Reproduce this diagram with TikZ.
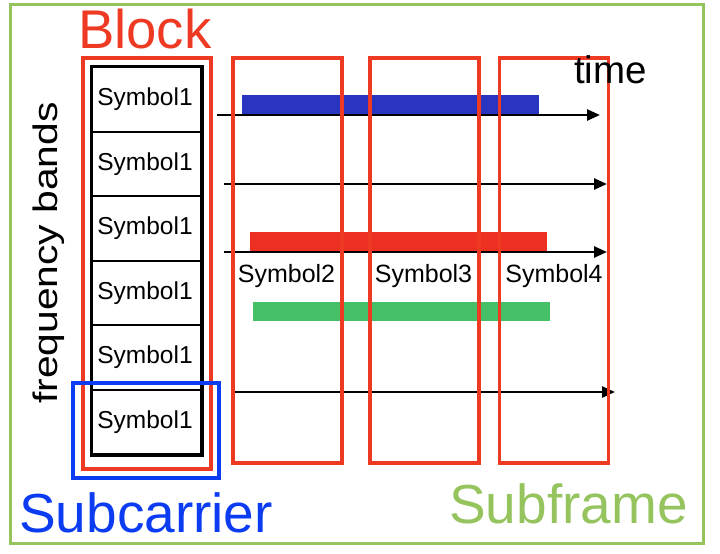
\documentclass[tikz,border=0pt]{standalone}
\usepackage{fontspec}
\setmainfont{Liberation Sans}
\usepackage{graphicx}
\usetikzlibrary{arrows.meta}
\definecolor{cFrame}{HTML}{95C45E}
\definecolor{cRed}{HTML}{EE3A23}
\definecolor{cBlue}{HTML}{0B3CF2}
\definecolor{cBarBlue}{HTML}{2935BF}
\definecolor{cBarRed}{HTML}{EE3023}
\definecolor{cBarGreen}{HTML}{45C067}

\begin{document}
\begin{tikzpicture}[
  x=1pt,y=-1pt,
  >={Triangle[length=13pt,width=11pt]},
  cell/.style={draw=black,line width=2pt,minimum width=109pt,minimum height=64.5pt,
               inner sep=0pt,font=\fontsize{24.5}{26}\selectfont},
  slot/.style={draw=cRed,line width=3.5pt,minimum width=109pt,minimum height=405pt,inner sep=0pt},
  band/.style={->,line width=2.6pt},
  bar/.style={inner sep=0pt,minimum height=19.5pt},
  colname/.style={anchor=base,inner sep=0pt,font=\fontsize{25}{27}\selectfont},
  bigtext/.style={anchor=base west,inner sep=0pt,font=\fontsize{55}{59}\selectfont}
]
\useasboundingbox (0,0) rectangle (720,554);

% outer subframe
\node[draw=cFrame,line width=3pt,minimum width=693pt,minimum height=539pt,inner sep=0pt]
  (frame) at (356.5,273.5) {};

% busy bands
\node[bar,fill=cBarBlue,minimum width=297pt] (busy1) at (390.5,104.5) {};
\node[bar,fill=cBarRed,minimum width=297pt] (busy2) at (398.5,242) {};
\node[bar,fill=cBarGreen,minimum width=297pt] (busy3) at (401.5,311.5) {};

% time axes
\coordinate (a1s) at (217,115); \coordinate (a1e) at (600,115);
\coordinate (a2s) at (224,184); \coordinate (a2e) at (607,184);
\coordinate (a3s) at (224,252); \coordinate (a3e) at (607,252);
\coordinate (a4s) at (235,392); \coordinate (a4e) at (615,392);
\draw[band] (a1s) -- (a1e);
\draw[band] (a2s) -- (a2e);
\draw[band] (a3s) -- (a3e);
\draw[band] (a4s) -- (a4e);

% first symbol, split into subcarriers
\foreach \i in {1,...,6}
  \node[cell] (s\i) at (146.5,{67+64.5*(\i-0.5)}) {\hspace*{-3pt}Symbol1};
\draw[line width=3pt] (s1.north west) rectangle (s6.south east);

% blocks / symbols
\node[slot,minimum width=128pt,minimum height=411pt] (block) at (147,263.5) {};
\node[slot] (c2) at (287.5,260.5) {};
\node[slot] (c3) at (424.5,260.5) {};
\node[slot] (c4) at (554,260.5) {};

\node[draw=cBlue,line width=3.5pt,minimum width=146pt,minimum height=95pt,inner sep=0pt]
  (sub) at (146,430.5) {};

% labels
\node[colname] (l2) at (286.5,282) {Symbol2};
\node[colname] (l3) at (423.5,282) {Symbol3};
\node[colname] (l4) at (554,282) {Symbol4};

\node[bigtext,text=cRed,font=\fontsize{54.5}{58}\selectfont] (tblock) at (78,48) {Block};
\node[bigtext,font=\fontsize{38.5}{41}\selectfont] (ttime) at (574,83) {time};
\node[anchor=base,inner sep=0pt,rotate=90,font=\fontsize{34}{38}\selectfont]
  (tfreq) at (57,253) {\scalebox{1.2}[1]{frequency bands}};
\node[bigtext,text=cBlue] (tsub) at (19,532) {Subcarrier};
\node[bigtext,text=cFrame] (tframe) at (449,523) {Subframe};

\end{tikzpicture}
\end{document}
